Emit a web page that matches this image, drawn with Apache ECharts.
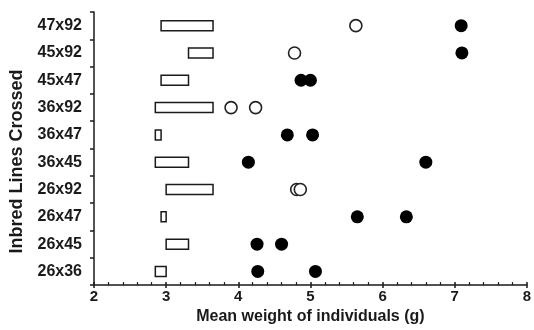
<!DOCTYPE html>
<html>
<head>
<meta charset="utf-8">
<script src="https://cdn.jsdelivr.net/npm/echarts@6/dist/echarts.min.js"></script>
<style>
  html, body { margin: 0; padding: 0; background: #fff; }
  #chart { width: 534px; height: 330px; }
</style>
</head>
<body>
<div id="chart"></div>
<script>
// Crosses between inbred lines, bottom to top
const crosses = ['26x36', '26x45', '26x47', '26x92', '36x45', '36x47', '36x92', '45x47', '45x92', '47x92'];

// Range spanned by the two parental lines (g)
const parentLow  = [2.85, 3.00, 2.93, 3.00, 2.85, 2.85, 2.85, 2.93, 3.31, 2.93];
const parentHigh = [3.00, 3.31, 3.00, 3.65, 3.31, 2.93, 3.65, 3.31, 3.65, 3.65];

// Hybrid mean weights, filled markers
const filledWeights = [
  [4.27, 5.07], [4.26, 4.60], [5.65, 6.33], [], [4.14, 6.60],
  [4.68, 5.03], [], [4.87, 5.00], [7.10], [7.09]
];
// Hybrid mean weights, open markers
const openWeights = [
  [], [], [], [4.81, 4.86], [],
  [], [3.90, 4.24], [], [4.78], [5.63]
];

// X axis ticks
const xMin = 2, xMax = 8, xStep = 1;

const FONT = "'Liberation Sans', Arial, Helvetica, sans-serif";
const INK = '#1a1a1a';

const rangeData = crosses.map((c, i) => [i, parentLow[i], parentHigh[i]]);
const flatten = (groups) => {
  const out = [];
  groups.forEach((vals, i) => vals.forEach(v => out.push([v, crosses[i]])));
  return out;
};

const chart = echarts.init(document.getElementById('chart'), null, { renderer: 'canvas' });

chart.setOption({
  animation: false,
  backgroundColor: '#fff',
  grid: { left: 91.5, right: 3, top: 12, bottom: 44, containLabel: false },
  xAxis: [
    {
      type: 'value', min: xMin, max: xMax, interval: xStep,
      name: 'Mean weight of individuals (g)',
      nameLocation: 'middle', nameGap: 23,
      nameTextStyle: { fontFamily: FONT, fontWeight: 'bold', fontSize: 16, color: INK },
      axisLine: { show: true, lineStyle: { color: INK, width: 1.5 } },
      axisTick: { show: true, inside: false, length: 3, lineStyle: { color: INK, width: 1.5 } },
      axisLabel: { margin: 4, fontFamily: FONT, fontWeight: 'bold', fontSize: 15, color: INK },
      splitLine: { show: false }
    },
    {
      type: 'value', min: xMin, max: xMax, interval: xStep, position: 'bottom',
      axisLine: { show: false },
      axisTick: { show: true, inside: true, length: 3, lineStyle: { color: INK, width: 1.5 } },
      minorTick: { show: true, splitNumber: 5, length: 3, lineStyle: { color: INK, width: 1.2 } },
      axisLabel: { show: false },
      splitLine: { show: false }
    }
  ],
  yAxis: {
    type: 'category', data: crosses, boundaryGap: true,
    name: 'Inbred Lines Crossed',
    nameLocation: 'middle', nameGap: 68, nameRotate: 90,
    nameTextStyle: { fontFamily: FONT, fontWeight: 'bold', fontSize: 18, color: INK, padding: [0, 26, 0, 0] },
    axisLine: { show: true, lineStyle: { color: INK, width: 1.5 } },
    axisTick: { show: true, inside: false, length: 4, alignWithLabel: false, lineStyle: { color: INK, width: 1.5 } },
    axisLabel: { margin: 12, fontFamily: FONT, fontWeight: 'bold', fontSize: 16, color: INK },
    splitLine: { show: false }
  },
  series: [
    {
      type: 'custom',
      xAxisIndex: 0,
      data: rangeData,
      encode: { y: 0, x: [1, 2] },
      renderItem: (params, api) => {
        const idx = api.value(0);
        const a = api.coord([api.value(1), idx]);
        const b = api.coord([api.value(2), idx]);
        const h = 10;
        return {
          type: 'rect',
          shape: { x: a[0], y: a[1] - h / 2, width: b[0] - a[0], height: h },
          style: { fill: '#fff', stroke: INK, lineWidth: 1.5 }
        };
      },
      z: 2
    },
    {
      type: 'scatter',
      xAxisIndex: 0,
      data: flatten(openWeights),
      symbol: 'circle', symbolSize: 12,
      itemStyle: { color: '#fff', borderColor: '#222', borderWidth: 1.6, opacity: 1 },
      z: 3
    },
    {
      type: 'scatter',
      xAxisIndex: 0,
      data: flatten(filledWeights),
      symbol: 'circle', symbolSize: 13,
      itemStyle: { color: '#000', opacity: 1 },
      z: 4
    }
  ]
});
</script>
</body>
</html>
